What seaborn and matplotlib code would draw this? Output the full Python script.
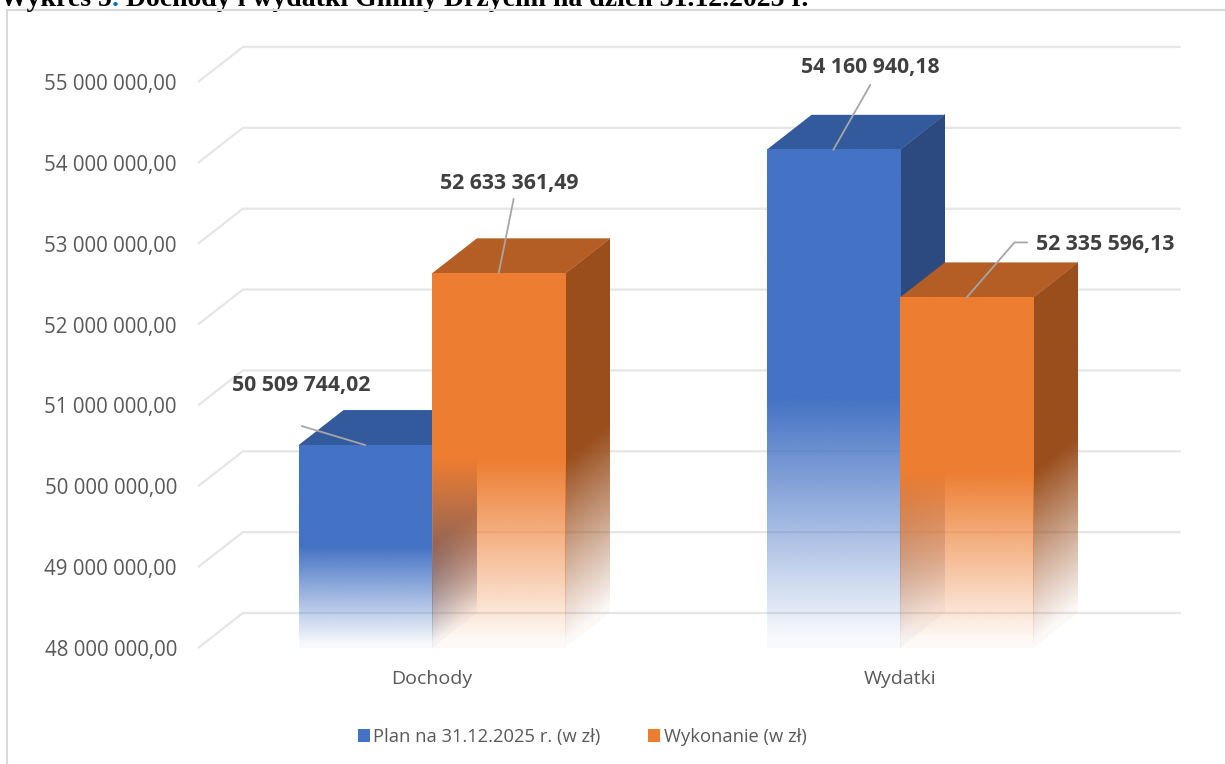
import numpy as np
import pandas as pd
import matplotlib
matplotlib.use('Agg')
import matplotlib.pyplot as plt
from matplotlib.patches import Polygon, Rectangle, Patch
from matplotlib.colors import to_rgb
import seaborn as sns

# dane
kategorie = ['Dochody', 'Wydatki']
serie = ['Plan na 31.12.2025 r. (w zł)', 'Wykonanie (w zł)']
plan = [50509744.02, 54160940.18]
wykonanie = [52633361.49, 52335596.13]
y_ticks = [48e6, 49e6, 50e6, 51e6, 52e6, 53e6, 54e6, 55e6]

# kolory 3D (przod, gora, bok)
kolory = {
    serie[0]: ('#4472C4', '#335A9C', '#2C4A80'),
    serie[1]: ('#ED7D31', '#B45E25', '#9A4E1D'),
}
TXT = '#595959'
GRID = '#E6E6E6'
DX, DY = 0.096, 0.433e6   # glebokosc slupka
FADE = 0.5                # dolna czesc slupka zanika


def zl(v):
    return f'{v:,.2f}'.replace(',', ' ').replace('.', ',')


def face(ax, x0, x1, lo, hi, shear, color, z):
    # sciana z gradientem przezroczystosci w dol
    nx, ny = 120, 700
    xs = np.linspace(x0, x1, nx)
    ymin, ymax = lo + min(0, shear), hi + max(0, shear)
    ys = np.linspace(ymin, ymax, ny)
    X, Y = np.meshgrid(xs, ys)
    S = shear * (X - x0) / (x1 - x0)
    frac = (Y - lo - S) / (hi - lo)
    alpha = np.clip(frac / FADE, 0.04, 1.0)
    alpha[(frac < 0) | (frac > 1)] = 0
    img = np.zeros((ny, nx, 4))
    img[..., :3] = to_rgb(color)
    img[..., 3] = alpha
    ax.imshow(img, extent=(x0, x1, ymin, ymax), origin='lower', aspect='auto',
              interpolation='bilinear', zorder=z)


sns.set_style('white')
plt.rcParams['font.family'] = ['Open Sans', 'DejaVu Sans']

df = pd.DataFrame({
    'kategoria': kategorie * 2,
    'seria': [serie[0]] * 2 + [serie[1]] * 2,
    'kwota': plan + wykonanie,
})

fig = plt.figure(figsize=(12.25, 7.64), dpi=100)
ax = fig.add_axes([190 / 1225, 104 / 764, 1000 / 1225, 640 / 764])

sns.barplot(data=df, x='kategoria', y='kwota', hue='seria', width=0.57,
            palette=[kolory[s][0] for s in serie], saturation=1,
            errorbar=None, legend=False, ax=ax)

xlim = (-0.5171, 1.6197)
ylim = (47.8516e6, 55.7666e6)
base = y_ticks[0]

# siatka z ukosnym odcinkiem przy osi
for t in y_ticks:
    ax.plot([-0.5, -0.5 + DX, 1.6], [t, t + DY, t + DY], color=GRID, lw=1.6,
            zorder=1, solid_capstyle='butt')

bars = sorted(ax.patches, key=lambda p: p.get_x())

# przesuniecia etykiet (px): tekst, poczatek linii, styl polaczenia
etyk = [
    ((-64, 60), (-63.5, 19), 'arc3'),
    ((11, 90), (15, 74.5), 'arc3'),
    ((37, 82), (37, 65), 'arc3'),
    ((139, 53), (60.5, 55), 'angle,angleA=0,angleB=49,rad=0'),
]

for k, p in enumerate(bars):
    x0, w, top = p.get_x(), p.get_width(), p.get_height()
    fc = p.get_facecolor()
    s = serie[0] if np.allclose(to_rgb(fc), to_rgb(kolory[serie[0]][0]), atol=0.02) else serie[1]
    c_front, c_top, c_side = kolory[s]
    p.set_visible(False)
    z = 3 + k
    # bok prawy
    face(ax, x0 + w, x0 + w + DX, base, top, DY, c_side, z + 0.1)
    # gora
    ax.add_patch(Polygon([(x0, top), (x0 + w, top), (x0 + w + DX, top + DY), (x0 + DX, top + DY)],
                         closed=True, facecolor=c_top, edgecolor='none', zorder=z + 0.2))
    # przod
    face(ax, x0, x0 + w, base, top, 0, c_front, z + 0.3)

    (tx, ty), (lx, ly), cs = etyk[k]
    cx = x0 + w / 2
    ax.annotate('', xy=(cx, top), xytext=(lx, ly), textcoords='offset pixels',
                arrowprops=dict(arrowstyle='-', color='#A6A6A6', lw=1.3,
                                shrinkA=0, shrinkB=0, connectionstyle=cs),
                zorder=20)
    ax.annotate(zl(top), xy=(cx, top), xytext=(tx, ty), textcoords='offset pixels',
                ha='center', va='center', fontsize=15.3, fontweight='bold',
                color='#404040', zorder=21)

ax.set_xlim(xlim)
ax.set_ylim(ylim)
ax.set_yticks(y_ticks)
ax.set_yticklabels([zl(t) for t in y_ticks])
ax.set_xticks(range(len(kategorie)))
ax.set_xticklabels(kategorie)
ax.tick_params(axis='y', length=0, pad=9.4, labelsize=14.8, labelcolor=TXT)
ax.tick_params(axis='x', length=0, pad=7, labelsize=14, labelcolor=TXT)
ax.set_xlabel('')
ax.set_ylabel('')
ax.grid(False)
sns.despine(ax=ax, left=True, bottom=True)

# legenda
uchwyty = [Patch(facecolor=kolory[s][0], edgecolor='none') for s in serie]
leg = fig.legend(uchwyty, serie, loc='center', bbox_to_anchor=(582 / 1225, 27 / 764),
                 ncol=2, frameon=False, fontsize=13.2, handlelength=0.65, handleheight=0.65,
                 handletextpad=0.2, columnspacing=2.6)
for t in leg.get_texts():
    t.set_color(TXT)

# ramka wykresu
fig.patches.append(Rectangle((7 / 1225, -0.1), 2, (764 - 10) / 764 + 0.1, transform=fig.transFigure,
                             fill=False, edgecolor='#D9D9D9', lw=1.5))

# tytul (uciety u gory)
yb = 1 - 6 / 764
tf = dict(fontsize=20, fontweight='bold', family=['Liberation Serif', 'DejaVu Serif'], va='baseline')
t1 = fig.text(0.0, yb, 'Wykres 5', color='black', **tf)
t2 = plt.annotate('.', xy=(1, yb), xycoords=(t1, 'figure fraction'), color='#0070C0', **tf)
t3 = plt.annotate(' Dochody i wydatki Gminy Drzycim na dzień 31.12.2025 r.', xy=(1, yb),
                  xycoords=(t2, 'figure fraction'), color='black', **tf)

fig.savefig('out.png', dpi=100)
